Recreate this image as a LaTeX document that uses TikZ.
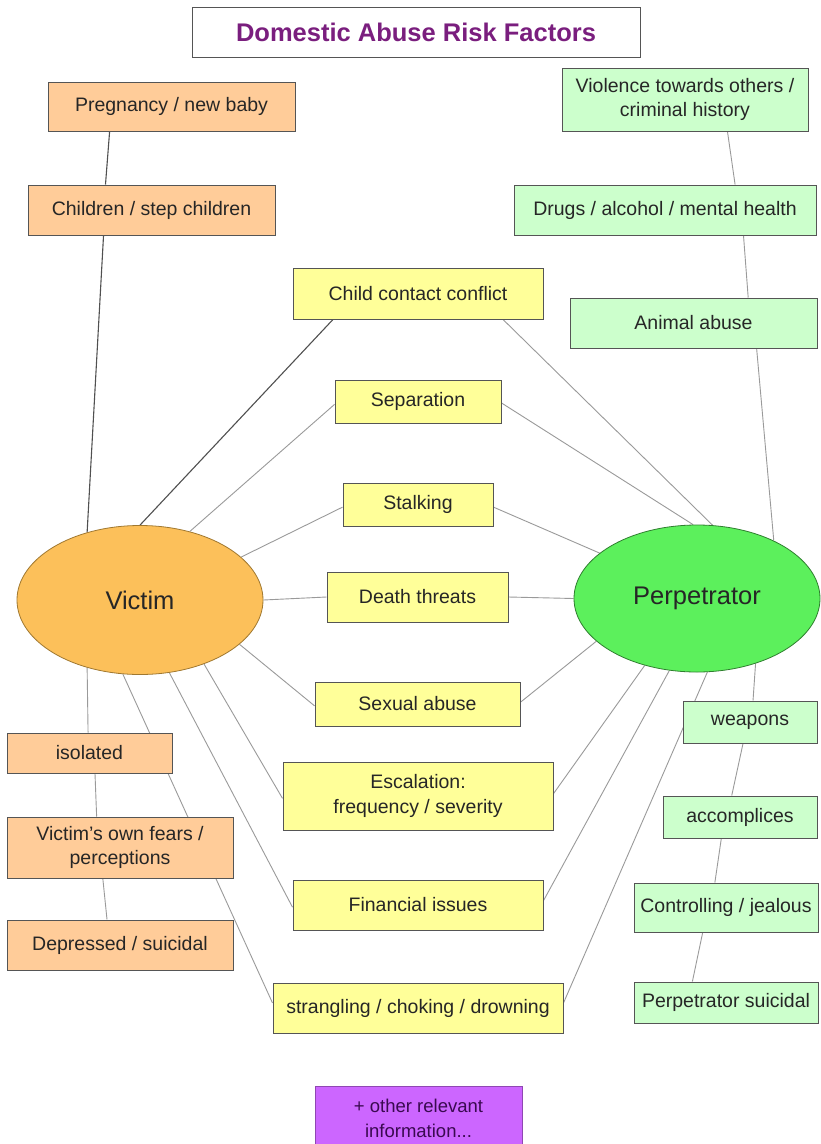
\documentclass[tikz,border=0pt]{standalone}
\usepackage{fontspec}
\setmainfont{Liberation Sans}
\usetikzlibrary{shapes.geometric}
\pgfdeclarelayer{bg}
\pgfdeclarelayer{paper}
\pgfsetlayers{paper,bg,main}
\definecolor{peach}{HTML}{FFCC99}
\definecolor{mint}{HTML}{CCFFCC}
\definecolor{lemon}{HTML}{FFFF99}
\definecolor{violetbox}{HTML}{CC66FF}
\definecolor{victimfill}{HTML}{FCC05A}
\definecolor{victimline}{HTML}{A07830}
\definecolor{perpfill}{HTML}{5CF05C}
\definecolor{perpline}{HTML}{2F7F2F}
\definecolor{boxline}{HTML}{555555}
\definecolor{linec}{HTML}{9A9A9A}
\definecolor{darkline}{HTML}{505050}
\definecolor{textc}{HTML}{262626}
\definecolor{titlec}{HTML}{7A1E7E}
\definecolor{purpletext}{HTML}{3A0A50}
\begin{document}
\begin{tikzpicture}[x=1pt,y=-1pt,
  box/.style={draw=boxline, line width=1pt, rectangle, inner sep=0pt, align=center,
    font=\fontsize{19.5}{24.5}\selectfont, text=textc},
  obox/.style={box, fill=peach},
  gbox/.style={box, fill=mint},
  ybox/.style={box, fill=lemon},
  oval/.style={ellipse, inner sep=0pt, line width=0.8pt, font=\fontsize{25.5}{30}\selectfont, text=textc},
  link/.style={draw=linec, line width=0.9pt},
  darklink/.style={draw=darkline, line width=1.1pt},
]
\begin{pgfonlayer}{paper}
\fill[white] (0,0) rectangle (820,1144);
\end{pgfonlayer}
\useasboundingbox (0,0) rectangle (820,1144);

% title
\node[box, fill=white, minimum width=448pt, minimum height=50pt, text=titlec,
  font=\fontsize{25.5}{30}\selectfont\bfseries] (title) at (416,32) {Domestic Abuse Risk Factors};

% ellipses
\node[oval, draw=victimline, fill=victimfill, minimum width=246pt, minimum height=149pt] (victim) at (140,600) {Victim};
\node[oval, draw=perpline, fill=perpfill, minimum width=246pt, minimum height=147pt] (perp) at (697,598.5) {Perpetrator};

% victim-side boxes
\node[obox, minimum width=247pt, minimum height=49pt] (preg) at (171.5,106.5) {Pregnancy / new baby};
\node[obox, minimum width=247pt, minimum height=50pt] (child) at (151.5,210) {Children / step children};
\node[obox, minimum width=165pt, minimum height=40pt] (iso) at (89.5,753) {isolated};
\node[obox, minimum width=226pt, minimum height=61pt] (fears) at (120,847.5) {Victim's own fears /\\perceptions};
\node[obox, minimum width=226pt, minimum height=50pt] (depr) at (120,945) {Depressed / suicidal};

% perpetrator-side boxes
\node[gbox, minimum width=246pt, minimum height=63pt] (viol) at (685,99.5) {Violence towards others /\\criminal history};
\node[gbox, minimum width=302pt, minimum height=50pt] (drugs) at (665,210) {Drugs / alcohol / mental health};
\node[gbox, minimum width=247pt, minimum height=50pt] (animal) at (693.5,323) {Animal abuse};
\node[gbox, minimum width=134pt, minimum height=42pt] (weap) at (750,722) {weapons};
\node[gbox, minimum width=154pt, minimum height=42pt] (accomp) at (740,817) {accomplices};
\node[gbox, minimum width=184pt, minimum height=49pt] (ctrl) at (726,907.5) {Controlling / jealous};
\node[gbox, minimum width=184pt, minimum height=41pt] (suic) at (726,1002.5) {Perpetrator suicidal};

% shared boxes
\node[ybox, minimum width=250pt, minimum height=51pt] (ccc) at (418,293.5) {Child contact conflict};
\node[ybox, minimum width=166pt, minimum height=43pt] (sep) at (418,401.5) {Separation};
\node[ybox, minimum width=150pt, minimum height=43pt] (stalk) at (418,504.5) {Stalking};
\node[ybox, minimum width=181pt, minimum height=50pt] (death) at (417.5,597) {Death threats};
\node[ybox, minimum width=205pt, minimum height=44pt] (sexual) at (417.5,704) {Sexual abuse};
\node[ybox, minimum width=270pt, minimum height=68pt] (escal) at (418,796) {Escalation:\\frequency / severity};
\node[ybox, minimum width=250pt, minimum height=50pt] (fin) at (418,905) {Financial issues};
\node[ybox, minimum width=290pt, minimum height=50pt] (strang) at (418,1008) {strangling / choking / drowning};

% other info
\node[box, fill=violetbox, draw=violetbox!70!black, minimum width=207pt, minimum height=64pt,
  text=purpletext, font=\fontsize{18.5}{25}\selectfont] (other) at (418.5,1118) {+ other relevant\\information...};

\begin{pgfonlayer}{bg}
% victim chain
\draw[darklink] (preg.202) -- (child.151);
\draw[darklink] (child.208) -- (victim.128);
\draw[darklink] (ccc.197) -- (victim.90);
\draw[link] (sep.182) -- (victim.54);
\draw[link] (stalk.182) -- (victim.23);
\draw[link] (death.180) -- (victim.0);
\draw[link] (sexual.181) -- (victim.-24);
\draw[link] (escal.181) -- (victim.-45);
\draw[link] (fin.181) -- (victim.-68);
\draw[link] (strang.178) -- (victim.-103);
\draw[link] (victim.-128) -- (iso.94);
\draw[link] (iso.285) -- (fears.127);
\draw[link] (fears.241) -- (depr.117);
% perpetrator chain
\draw[link] (ccc.343) -- (perp.78);
\draw[link] (sep.359) -- (perp.93);
\draw[link] (stalk.358) -- (perp.155);
\draw[link] (death.0) -- (perp.180);
\draw[link] (sexual.1) -- (perp.203);
\draw[link] (escal.1) -- (perp.232);
\draw[link] (fin.2) -- (perp.249);
\draw[link] (strang.2) -- (perp.278);
\draw[link] (viol.323) -- (drugs.20);
\draw[link] (drugs.342) -- (animal.25);
\draw[link] (animal.338) -- (perp.37);
\draw[link] (perp.312) -- (weap.82);
\draw[link] (weap.252) -- (accomp.111);
\draw[link] (accomp.229) -- (ctrl.114);
\draw[link] (ctrl.227) -- (suic.148);
\end{pgfonlayer}
\end{tikzpicture}
\end{document}
